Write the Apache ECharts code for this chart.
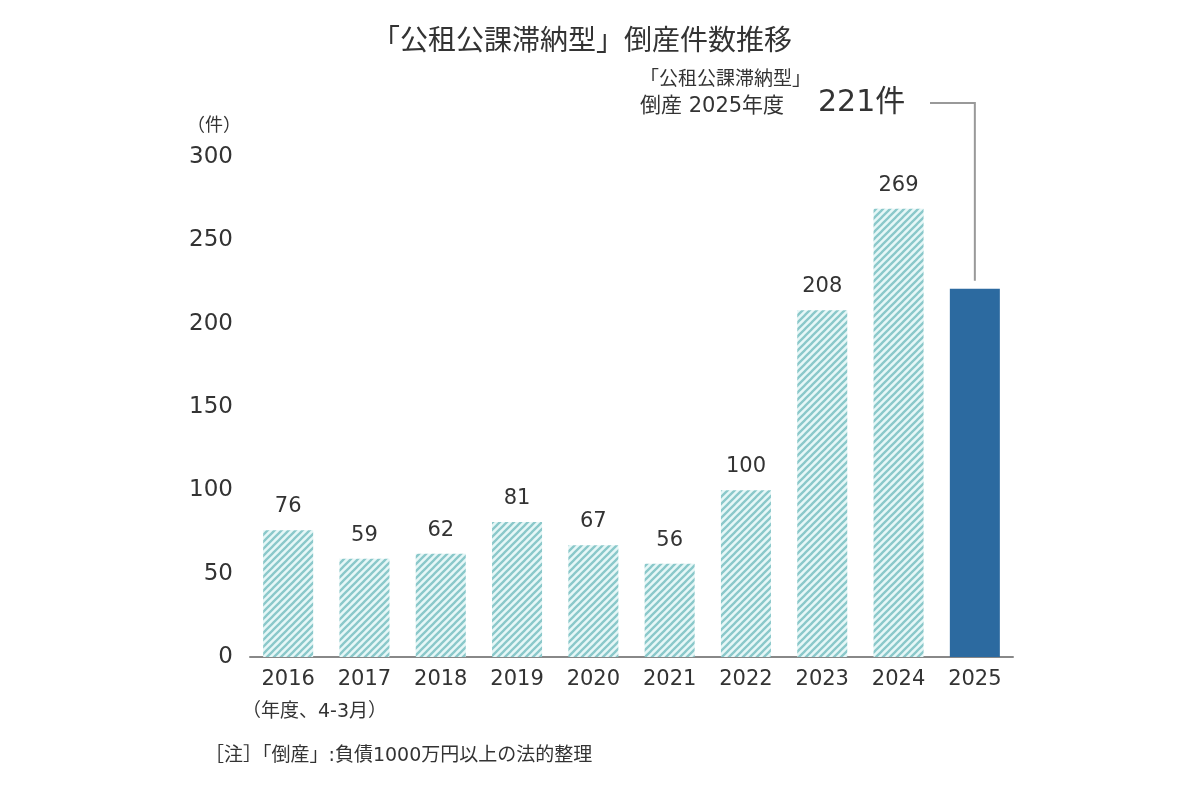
<!DOCTYPE html>
<html>
<head>
<meta charset="utf-8">
<style>
  html, body { margin: 0; padding: 0; background: #fff; }
  #chart { width: 1200px; height: 800px; }
</style>
<script src="https://cdn.jsdelivr.net/npm/echarts@6/dist/echarts.min.js"></script>
</head>
<body>
<div id="chart"></div>
<script>
const years = ['2016', '2017', '2018', '2019', '2020', '2021', '2022', '2023', '2024', '2025']
const counts = [76, 59, 62, 81, 67, 56, 100, 208, 269, 221]
const yTicks = [0, 50, 100, 150, 200, 250, 300]
const highlightIndex = 9

// wide digits from DejaVu, kana/kanji fall back to Noto CJK
const FONT = '"DejaVu Sans", "Noto Sans CJK JP", sans-serif'
const CJK = '"Noto Sans CJK JP", sans-serif'

// diagonal stripe fill for the past years
function stripes() {
  const s = 7
  const c = document.createElement('canvas')
  c.width = s
  c.height = s
  const ctx = c.getContext('2d')
  ctx.fillStyle = '#e6f7f7'
  ctx.fillRect(0, 0, s, s)
  ctx.strokeStyle = '#8ac8ca'
  ctx.lineWidth = 2.3
  ctx.beginPath()
  ;[0, s, 2 * s].forEach(k => {
    ctx.moveTo(k + 1, -1)
    ctx.lineTo(-1, k + 1)
  })
  ctx.stroke()
  return c
}

const pattern = { image: stripes(), repeat: 'repeat' }

const chart = echarts.init(document.getElementById('chart'))

const barData = counts.map((v, i) => ({
  value: v,
  itemStyle: { color: i === highlightIndex ? '#2c6aa0' : pattern },
  label: { show: i !== highlightIndex }
}))

chart.setOption({
  animation: false,
  backgroundColor: '#fff',
  grid: { left: 250, right: 187, top: 157, bottom: 143 },
  xAxis: {
    type: 'category',
    data: years,
    axisLine: { lineStyle: { color: '#888', width: 2 } },
    axisTick: { show: false },
    axisLabel: { fontFamily: FONT, fontSize: 21, color: '#333', margin: 12 }
  },
  yAxis: {
    type: 'value',
    min: yTicks[0],
    max: yTicks[yTicks.length - 1],
    interval: 50,
    splitLine: { show: false },
    axisLine: { show: false },
    axisTick: { show: false },
    axisLabel: { fontFamily: FONT, fontSize: 23, color: '#333', margin: 17 }
  },
  series: [{
    type: 'bar',
    data: barData,
    barWidth: 50,
    label: {
      position: 'top',
      distance: 13,
      fontFamily: FONT,
      fontSize: 21,
      color: '#333'
    }
  }]
})

// annotation for the latest year, positioned from the axes
const barTop = chart.convertToPixel({ gridIndex: 0 }, [highlightIndex, counts[highlightIndex]])
const lineY = 103

chart.setOption({
  graphic: [
    { type: 'text', left: 372, top: 25, style: { text: '「公租公課滞納型」倒産件数推移', fontFamily: CJK, fontSize: 28, fill: '#333' } },
    { type: 'text', left: 187, top: 115, style: { text: '（件）', fontFamily: CJK, fontSize: 18, fill: '#333' } },
    { type: 'text', left: 242, top: 703, style: { text: '（年度、4-3月）', fontFamily: FONT, fontSize: 19, fill: '#333' } },
    { type: 'text', left: 205, top: 747, style: { text: '［注］「倒産」:負債1000万円以上の法的整理', fontFamily: FONT, fontSize: 19, fill: '#333' } },
    { type: 'text', left: 640, top: 68, style: { text: '「公租公課滞納型」', fontFamily: CJK, fontSize: 19, fill: '#333' } },
    { type: 'text', left: 640, top: 96, style: { text: '倒産 2025年度', fontFamily: FONT, fontSize: 21, fill: '#333' } },
    { type: 'text', left: 818, top: 88, style: { text: counts[highlightIndex] + '件', fontFamily: FONT, fontSize: 30, fill: '#333' } },
    {
      type: 'polyline',
      shape: { points: [[930, lineY], [barTop[0], lineY], [barTop[0], barTop[1] - 8]] },
      style: { stroke: '#999', lineWidth: 2, fill: null }
    }
  ]
})
</script>
</body>
</html>
